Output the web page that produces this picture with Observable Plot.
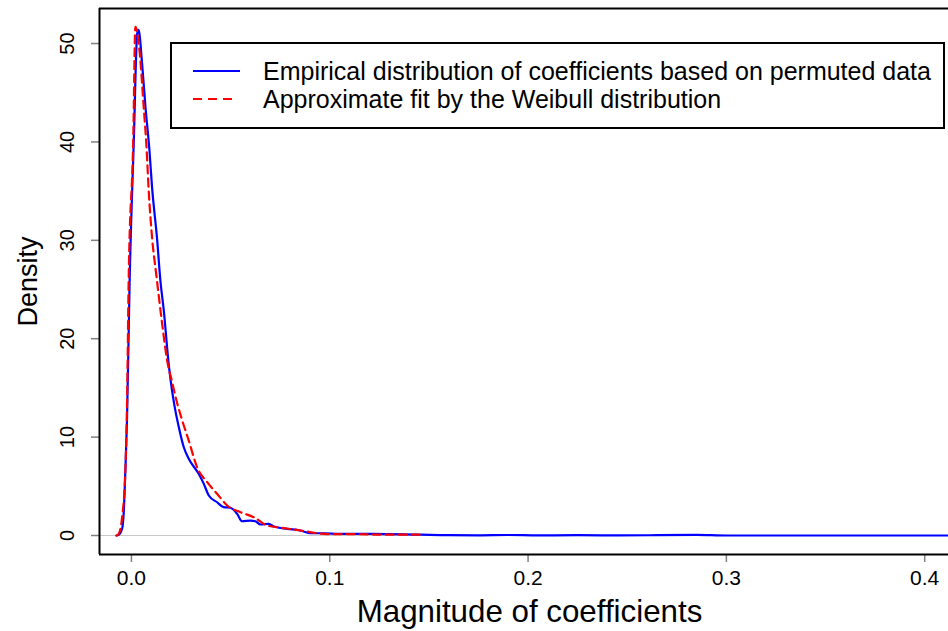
<!DOCTYPE html>
<html>
<head>
<meta charset="utf-8">
<script src="https://cdn.jsdelivr.net/npm/d3@7"></script>
<script src="https://cdn.jsdelivr.net/npm/@observablehq/plot@0.6"></script>
<style>
  html, body { margin: 0; padding: 0; background: #fff; }
  #chart { width: 948px; height: 631px; overflow: hidden; }
  svg g[aria-label="x-axis tick"], svg g[aria-label="y-axis tick"] { stroke: #808080; stroke-width: 1.5; }
</style>
</head>
<body>
<div id="chart"></div>
<script>
// ---- data ----
const xTicks = [0, 0.1, 0.2, 0.3, 0.4];
const yTicks = [0, 10, 20, 30, 40, 50];
const xDomain = [-0.0161, 0.412];
const yDomain = [-1.93, 53.56];

const legendLabels = [
  "Empirical distribution of coefficients based on permuted data",
  "Approximate fit by the Weibull distribution"
];

// empirical density (blue solid)
const empX = [-0.0075, -0.0064, -0.0047, -0.0039, -0.0030, -0.0022, -0.0009, 0.0012, 0.0029, 0.0036,
  0.0054, 0.0071, 0.0091, 0.0104, 0.0130, 0.0146, 0.0163, 0.0188, 0.0205, 0.0217,
  0.0239, 0.0264, 0.0289, 0.0339, 0.0365, 0.0390, 0.0432, 0.0465, 0.0499, 0.0533,
  0.0558, 0.0600, 0.0625, 0.0651, 0.0692, 0.0718, 0.0785, 0.0852, 0.0903, 0.097,
  0.105, 0.122, 0.146, 0.16, 0.175, 0.19, 0.205, 0.225, 0.245, 0.265,
  0.285, 0.30, 0.35, 0.412];
const empY = [0, 0.07, 0.68, 2.24, 6.94, 12.0, 25.9, 40.1, 51.0, 51.4,
  47.9, 43.5, 39.1, 35.4, 30.0, 25.9, 22.9, 17.4, 14.7, 13.2,
  11.0, 8.97, 7.8, 6.27, 5.25, 4.07, 3.38, 2.88, 2.82, 2.2,
  1.45, 1.52, 1.45, 1.12, 1.19, 0.91, 0.68, 0.51, 0.23, 0.23,
  0.17, 0.17, 0.08, 0.03, 0.02, 0.05, 0.01, 0.04, 0.01, 0.03,
  0.06, 0.0, 0.0, 0.0];

// Weibull fit (red dashed)
const weiX = [-0.0075, -0.0064, -0.0047, -0.0030, -0.0022, -0.0014, 0.0009, 0.0020, 0.0042, 0.0062,
  0.0076, 0.0087, 0.0104, 0.0126, 0.0155, 0.0180, 0.0205, 0.0230, 0.0256, 0.0289,
  0.0331, 0.0382, 0.0432, 0.0483, 0.0550, 0.0617, 0.0684, 0.0751, 0.0852, 0.0987,
  0.108, 0.122, 0.146];
const weiY = [0, 0.17, 1.86, 6.94, 13.7, 25.9, 40.1, 51.7, 49.0, 43.5,
  39.5, 35.1, 30.3, 26.4, 21.5, 17.8, 15.6, 13.5, 11.7, 9.65,
  6.94, 5.42, 4.24, 3.05, 2.37, 1.86, 1.02, 0.81, 0.51, 0.15,
  0.15, 0.10, 0.08];

const empirical = empX.map((x, i) => ({x, y: empY[i]}));
const weibull = weiX.map((x, i) => ({x, y: weiY[i]}));

const FONT = "Arial, 'Liberation Sans', Helvetica, sans-serif";

const chart = Plot.plot({
  width: 948,
  height: 631,
  marginLeft: 99,
  marginRight: 0,
  marginTop: 8,
  marginBottom: 77,
  style: {fontFamily: FONT, background: "white", color: "black"},
  x: {domain: xDomain, axis: null},
  y: {domain: yDomain, axis: null},
  marks: [
    Plot.ruleY([0], {stroke: "#c8c8c8", strokeWidth: 1.2}),
    Plot.line(empirical, {x: "x", y: "y", stroke: "#0000ff", strokeWidth: 2.2, curve: "monotone-x"}),
    Plot.line(weibull, {x: "x", y: "y", stroke: "#ff0000", strokeWidth: 2.2, strokeDasharray: "8,5", curve: "monotone-x"}),
    // axis ticks
    Plot.axisX({ticks: xTicks, tickSize: 8, tickFormat: () => "", label: null}),
    Plot.axisY({ticks: yTicks, tickSize: 8, tickFormat: () => "", label: null}),
    // axis box lines (left, bottom, top)
    Plot.ruleX([xDomain[0]], {stroke: "black", strokeWidth: 2}),
    Plot.ruleY([yDomain[0]], {stroke: "black", strokeWidth: 2}),
    Plot.ruleY([yDomain[1]], {stroke: "black", strokeWidth: 2}),
    // tick labels
    Plot.text(xTicks, {x: d => d, text: d => d3.format(".1f")(d), frameAnchor: "bottom", dy: 24, fontSize: 21, lineAnchor: "middle", textAnchor: "middle", fill: "black"}),
    Plot.text(yTicks, {y: d => d, text: d => String(d), frameAnchor: "left", dx: -32, rotate: -90, fontSize: 20, lineAnchor: "middle", textAnchor: "middle", fill: "black"}),
    // axis titles
    Plot.text(["Magnitude of coefficients"], {frameAnchor: "bottom", dy: 57, dx: 5.5, fontSize: 31.3, lineAnchor: "middle", textAnchor: "middle", fill: "black"}),
    Plot.text(["Density"], {frameAnchor: "left", dx: -71, rotate: -90, fontSize: 27, lineAnchor: "middle", textAnchor: "middle", fill: "black"})
  ]
});

document.getElementById("chart").appendChild(chart);

// legend box inside the plot area
const svg = d3.select(chart);
const lg = svg.append("g").attr("font-family", FONT).attr("text-anchor", "start");
lg.append("rect").attr("x", 171).attr("y", 43).attr("width", 773).attr("height", 85)
  .attr("fill", "white").attr("stroke", "black").attr("stroke-width", 2);
const legendStyles = [
  {stroke: "#0000ff", dash: null, y: 71, x2: 240},
  {stroke: "#ff0000", dash: "9,6", y: 99, x2: 232}
];
legendStyles.forEach((s, i) => {
  const ln = lg.append("line").attr("x1", 193).attr("x2", s.x2)
    .attr("y1", s.y).attr("y2", s.y).attr("stroke", s.stroke).attr("stroke-width", 2.2);
  if (s.dash) ln.attr("stroke-dasharray", s.dash);
  lg.append("text").attr("x", 263).attr("y", s.y).attr("dy", "0.35em")
    .attr("text-anchor", "start")
    .attr("font-size", 25).attr("fill", "black").text(legendLabels[i]);
});
</script>
</body>
</html>
